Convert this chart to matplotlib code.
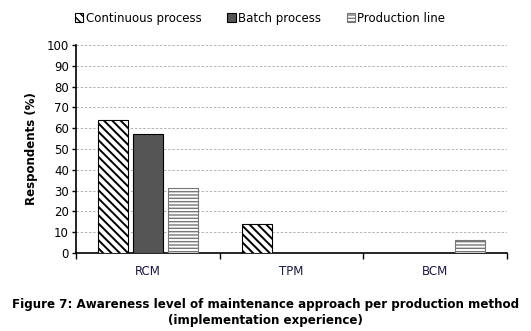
import matplotlib
matplotlib.use("Agg")
import matplotlib.pyplot as plt
import numpy as np
from matplotlib.ticker import FixedLocator, NullFormatter

categories = ["RCM", "TPM", "BCM"]
series = ["Continuous process", "Batch process", "Production line"]
continuous = [64, 14, 0]
batch = [57, 0, 0]
production = [31, 0, 6]
yticks = list(range(0, 101, 10))

plt.rcParams['font.family'] = ['DejaVu Sans']

fig = plt.figure(figsize=(5.31, 3.31), dpi=100)
ax = fig.add_axes([0.143, 0.236, 0.812, 0.628])

x = np.arange(len(categories))
w = 0.21
step = 0.243
styles = [
    dict(facecolor="white", hatch="\\\\\\\\", edgecolor="black"),
    dict(facecolor="#555555", hatch=None, edgecolor="black"),
    dict(facecolor="white", hatch="-----", edgecolor="#777777"),
]
hatch_lw = [1.4, 1.0, 1.0]
handles = []
for i, (vals, st) in enumerate(zip([continuous, batch, production], styles)):
    plt.rcParams['hatch.linewidth'] = hatch_lw[i]
    b = ax.bar(x + (i - 1) * step, vals, width=w, linewidth=0.8, zorder=3, label=series[i], **st)
    for r in b:
        if r.get_height() == 0:
            r.set_visible(False)
    handles.append(b)

ax.set_xlim(-0.5, 2.5)
ax.set_ylim(0, 100)
ax.set_yticks(yticks)
ax.tick_params(axis='y', labelsize=8.5, length=3, width=1, colors='black', pad=2)
ax.yaxis.grid(True, linestyle=(0, (3, 2)), color='#aaaaaa', linewidth=0.6, zorder=0)
ax.set_axisbelow(True)
ax.xaxis.set_major_locator(FixedLocator([-0.5, 0.5, 1.5, 2.5]))
ax.xaxis.set_major_formatter(NullFormatter())
ax.xaxis.set_minor_locator(FixedLocator(list(x)))
ax.set_xticklabels(categories, minor=True)
ax.tick_params(axis='x', which='major', length=4, width=1, direction='out')
ax.tick_params(axis='x', which='minor', length=0, labelsize=8.5, labelcolor='#1a1a40', pad=9)
for s in ['top', 'right']:
    ax.spines[s].set_visible(False)
ax.spines['left'].set_linewidth(1.2)
ax.spines['bottom'].set_linewidth(1.2)
ax.set_ylabel("Respondents (%)", fontsize=8.5, fontweight='bold', labelpad=6)

leg = fig.legend(handles=handles, labels=series, loc='center', bbox_to_anchor=(0.49, 0.945), ncol=3,
                 frameon=False, fontsize=8.5, handlelength=0.7, handleheight=0.7,
                 handletextpad=0.2, columnspacing=2.2)

fig.text(0.5, 0.079, "Figure 7: Awareness level of maintenance approach per production method",
         ha='center', va='center', fontsize=8.6, fontweight='bold')
fig.text(0.5, 0.031, "(implementation experience)", ha='center', va='center', fontsize=8.6, fontweight='bold')

fig.savefig("out.png", dpi=100)
